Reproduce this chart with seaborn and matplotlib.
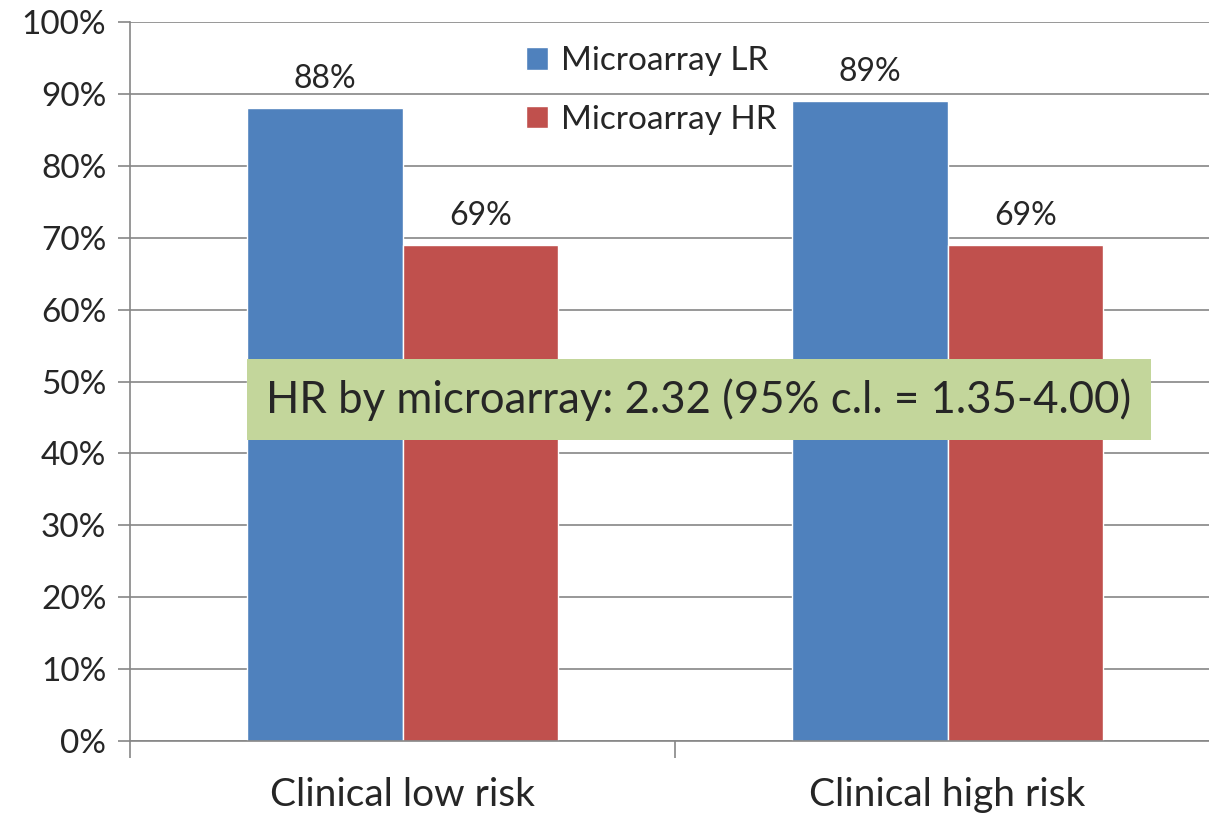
import matplotlib
matplotlib.use("Agg")
import matplotlib.pyplot as plt
import pandas as pd
import seaborn as sns
from matplotlib.ticker import FuncFormatter, FixedLocator

""" Données """
categories = ["Clinical low risk", "Clinical high risk"]
groups = ["Microarray LR", "Microarray HR"]
lr_values = [88, 89]
hr_values = [69, 69]
annotation = "HR by microarray: 2.32 (95% c.l. = 1.35-4.00)"

df = pd.DataFrame({
    "category": categories * 2,
    "group": [groups[0]] * len(categories) + [groups[1]] * len(categories),
    "value": lr_values + hr_values,
})

sns.set_style("white")
plt.rcParams["font.family"] = ["Lato", "DejaVu Sans"]

fig = plt.figure(figsize=(12.09, 8.14), dpi=100)
ax = fig.add_axes([130 / 1209, 1 - 741 / 814, 1090 / 1209, 719 / 814])

palette = {groups[0]: "#4F81BD", groups[1]: "#C0504D"}
sns.barplot(data=df, x="category", y="value", hue="group", palette=palette,
            width=0.57, gap=0, saturation=1, ax=ax, legend=True)

for cont in ax.containers:
    ax.bar_label(cont, labels=[f"{v:.0f}%" for v in cont.datavalues],
                 padding=10, fontsize=23)

""" Axes """
ax.set_ylim(0, 100)
ax.set_xlim(-0.5, 1.5)
ax.yaxis.set_major_locator(FixedLocator(range(0, 101, 10)))
ax.yaxis.set_major_formatter(FuncFormatter(lambda v, p: f"{v:.0f}%"))
ax.grid(axis="y", color="#868686", linewidth=1.2)
ax.set_axisbelow(True)
ax.set_xlabel("")
ax.set_ylabel("")

ax.tick_params(axis="y", labelsize=24, length=9, color="#868686", width=1.2,
               left=True, pad=8)
ax.tick_params(axis="x", which="major", length=0, labelsize=28, pad=26)
ax.set_xticks([-0.5, 0.5, 1.5], minor=True)
ax.tick_params(axis="x", which="minor", length=12, color="#868686", width=1.2,
               bottom=True)

for s in ["top", "right"]:
    ax.spines[s].set_visible(False)
for s in ["left", "bottom"]:
    ax.spines[s].set_color("#868686")
    ax.spines[s].set_linewidth(1.2)

""" Légende """
leg = ax.legend(loc="upper left", bbox_to_anchor=(0.336, 1.008), frameon=False,
                fontsize=24, handlelength=0.65, handleheight=0.65,
                handletextpad=0.4, labelspacing=0.85)

""" Encadré """
ax.text(0.522, 47.5, annotation, transform=ax.get_yaxis_transform(),
        ha="center", va="center", fontsize=31.5,
        bbox=dict(boxstyle="square,pad=0.44", facecolor="#C3D69B",
                  edgecolor="none"))

fig.savefig("out.png", dpi=100)
